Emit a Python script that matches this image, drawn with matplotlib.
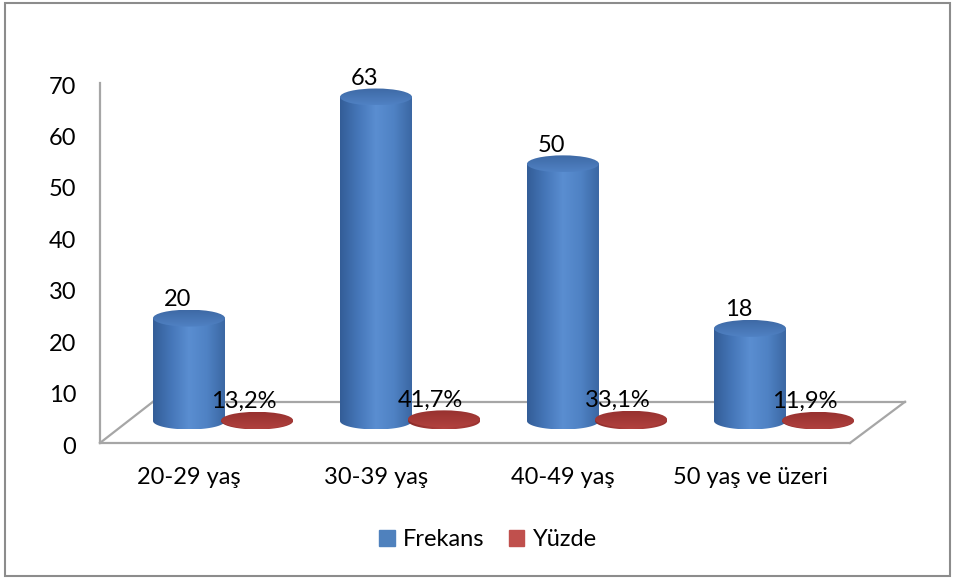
import numpy as np
import matplotlib
matplotlib.use('Agg')
import matplotlib.pyplot as plt
from matplotlib.patches import Polygon, Ellipse, Patch, Rectangle
from matplotlib.colors import LinearSegmentedColormap

plt.rcParams['font.family'] = ['Lato', 'DejaVu Sans']

# 데이터
categories = ['20-29 yaş', '30-39 yaş', '40-49 yaş', '50 yaş ve üzeri']
frekans = [20, 63, 50, 18]
yuzde = [13.2, 41.7, 33.1, 11.9]   # % (grafikte oran olarak çizilir)

blue_body = LinearSegmentedColormap.from_list('bb', ['#335d97', '#4576b8', '#5a8ed1', '#4f82c4', '#3b67a3'])
blue_top = LinearSegmentedColormap.from_list('bt', ['#5082c4', '#3e69a5'])
red_body = LinearSegmentedColormap.from_list('rb', ['#8a2b29', '#b3423f', '#9a3230'])
red_top = LinearSegmentedColormap.from_list('rt', ['#b0413e', '#97312f'])

fs = 17

fig = plt.figure(figsize=(9.55, 5.79), dpi=100)
ax = fig.add_axes([100 / 955, 134 / 579, 805 / 955, 360 / 579])

base = 4.67     # 바닥면 깊이 (data 단위)
w = 0.385       # 원기둥 폭
h = 3.3         # 타원 높이
shift = 0.364   # Yüzde 계열 x 이동


def cylinder(xc, val, cb, ct, z):
    top = base + val
    t = np.linspace(0, np.pi, 60)
    ex = xc + w / 2 * np.cos(-t)
    ey = base + h / 2 * np.sin(-t)
    verts = [(xc - w / 2, base), (xc - w / 2, top), (xc + w / 2, top)] + list(zip(ex, ey))
    body = Polygon(verts, closed=True, facecolor='none', edgecolor='none')
    ax.add_patch(body)
    g = np.linspace(0, 1, 256).reshape(1, -1)
    im = ax.imshow(g, cmap=cb, extent=(xc - w / 2, xc + w / 2, base - h / 2, top),
                   aspect='auto', origin='lower', zorder=z, interpolation='bilinear')
    im.set_clip_path(body)
    cap = Ellipse((xc, top), w, h, facecolor='none', edgecolor='none')
    ax.add_patch(cap)
    gv = np.linspace(0, 1, 256).reshape(-1, 1)
    im2 = ax.imshow(gv, cmap=ct, extent=(xc - w / 2, xc + w / 2, top - h / 2, top + h / 2),
                    aspect='auto', origin='lower', zorder=z + 0.1, interpolation='bilinear')
    im2.set_clip_path(cap)
    return top


x = np.arange(len(categories))
for i in range(len(categories)):
    top = cylinder(x[i], frekans[i], blue_body, blue_top, 3 + i)
    ax.annotate(str(frekans[i]), (x[i], top), xytext=(-8, 13.5), textcoords='offset points',
                ha='center', va='center', fontsize=fs)
    top2 = cylinder(x[i] + shift, yuzde[i] / 100, red_body, red_top, 3.5 + i)
    ax.annotate('{:.1f}%'.format(yuzde[i]).replace('.', ','), (x[i] + shift, top2),
                xytext=(-9.5, 13.5), textcoords='offset points',
                ha='center', va='center', fontsize=fs, zorder=10)

# 바닥면 / 벽 선
xl, xr = -0.476, 3.829
fx_r, bx_l = 3.535, -0.193
fy, by = 0.4, 8.4
gc = '#a6a6a6'
ax.plot([xl, fx_r], [fy, fy], color=gc, lw=1.6, zorder=1, clip_on=False)
ax.plot([xl, bx_l], [fy, by], color=gc, lw=1.6, zorder=1, clip_on=False)
ax.plot([bx_l, xr], [by, by], color=gc, lw=1.6, zorder=1, clip_on=False)
ax.plot([xr, fx_r], [by, fy], color=gc, lw=1.6, zorder=1, clip_on=False)
ax.plot([xl, xl], [fy, 70.4], color=gc, lw=1.6, zorder=1, clip_on=False)

ax.set_xlim(xl, xr)
ax.set_ylim(0, 70)
ax.set_yticks(np.arange(0, 71, 10))
ax.set_xticks(x)
ax.set_xticklabels(categories)
ax.tick_params(axis='y', length=0, pad=17, labelsize=fs)
ax.tick_params(axis='x', length=0, pad=15.5, labelsize=fs)
for s in ax.spines.values():
    s.set_visible(False)

fig.legend(handles=[Patch(color='#4f81bd', label='Frekans'), Patch(color='#c0504d', label='Yüzde')],
           loc='center', bbox_to_anchor=(488 / 955, 1 - 540 / 579), ncol=2, frameon=False,
           handlelength=0.65, handleheight=0.65, handletextpad=0.35, columnspacing=1.05, fontsize=fs)

fig.patches.append(Rectangle((5 / 955, 3 / 579), 945 / 955, 573 / 579, transform=fig.transFigure,
                             fill=False, edgecolor='#8c8c8c', lw=1.5))

plt.savefig('out.png', dpi=100)
